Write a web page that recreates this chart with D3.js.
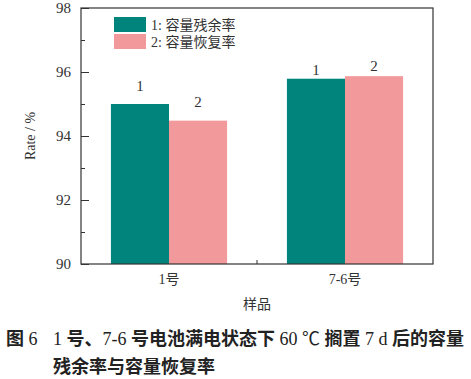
<!DOCTYPE html>
<html><head><meta charset="utf-8">
<script src="https://cdn.jsdelivr.net/npm/d3@7/dist/d3.min.js"></script>
<style>
body{margin:0;background:#fff;}
text{font-family:"Liberation Serif","Noto Sans CJK SC",serif;}
</style></head>
<body><svg id="c" width="471" height="379"></svg>
<script>
const categories = ["1号", "7-6号"];
const seriesNames = ["1: 容量残余率", "2: 容量恢复率"];
const seriesShort = ["1", "2"];
const residual = [95.0, 95.79];
const recovery = [94.48, 95.87];
const yTicks = [90, 92, 94, 96, 98];
const yMinorTicks = [91, 93, 95, 97];
const colors = ["#00847C", "#F29A9B"];
const captionLines = ["1 号、7-6 号电池满电状态下 60 ℃ 搁置 7 d 后的容量", "残余率与容量恢复率"];

const svg = d3.select("#c");
const m = {l:81, t:8, r:433, b:264};
const ink = "#333";

const x = d3.scaleBand().domain(categories).range([m.l, m.r]).paddingInner(0.34).paddingOuter(0.17);
const xs = d3.scaleBand().domain([0,1]).range([0, x.bandwidth()]);
const y = d3.scaleLinear().domain([90, 98]).range([m.b, m.t]);

const series = [residual, recovery];
series.forEach((vals, si) => {
  svg.append("g").selectAll("rect").data(vals).join("rect")
    .attr("x", (d,i) => x(categories[i]) + xs(si))
    .attr("y", d => y(d))
    .attr("width", xs.bandwidth())
    .attr("height", d => y(90) - y(d))
    .attr("fill", colors[si]);
});
const labelOffsets = [[13, 14], [4, 5]];
series.forEach((vals, si) => {
  svg.append("g").selectAll("text").data(vals).join("text")
    .attr("x", (d,i) => x(categories[i]) + xs(si) + xs.bandwidth()/2)
    .attr("y", (d,i) => y(d) - labelOffsets[i][si])
    .attr("text-anchor", "middle")
    .attr("font-size", 15).attr("fill", ink)
    .text(seriesShort[si]);
});

svg.append("rect").attr("x", m.l).attr("y", m.t).attr("width", m.r-m.l).attr("height", m.b-m.t)
  .attr("fill","none").attr("stroke", ink).attr("stroke-width", 1.2);

const ya = svg.append("g").attr("transform", `translate(${m.l},0)`)
  .call(d3.axisLeft(y).tickValues(yTicks).tickSize(-8).tickPadding(10).tickFormat(d3.format("d")));
ya.select(".domain").remove();
ya.selectAll("line").attr("stroke", ink);
ya.selectAll("text").attr("font-size", 15).attr("fill", ink).attr("font-family", "Liberation Serif");
const yb = svg.append("g").attr("transform", `translate(${m.l},0)`)
  .call(d3.axisLeft(y).tickValues(yMinorTicks).tickSize(-4).tickFormat(""));
yb.select(".domain").remove();
yb.selectAll("line").attr("stroke", ink);

const xa = svg.append("g").attr("transform", `translate(0,${m.b})`)
  .call(d3.axisBottom(x).tickSize(0).tickPadding(10));
xa.select(".domain").remove();
xa.selectAll("text").attr("font-size", 14).attr("fill", ink).attr("font-family", "Liberation Serif, Noto Sans CJK SC");
const mid = (x(categories[0]) + x(categories[1]) + x.bandwidth())/2;
svg.append("line").attr("x1", mid).attr("x2", mid).attr("y1", m.b).attr("y2", m.b-4).attr("stroke", ink);

svg.append("text").attr("transform", `translate(35,${(m.t+m.b)/2}) rotate(-90)`)
  .attr("text-anchor","middle").attr("font-size", 14).attr("fill", ink).text("Rate / %");
svg.append("text").attr("x", (m.l+m.r)/2).attr("y", 309).attr("text-anchor","middle")
  .attr("font-size", 14).attr("fill", ink).text("样品");

const lg = svg.append("g");
seriesNames.forEach((n, i) => {
  lg.append("rect").attr("x", 114).attr("y", 17 + i*17).attr("width", 32).attr("height", 15).attr("fill", colors[i]);
  lg.append("text").attr("x", 151).attr("y", 30 + i*17).attr("font-size", 14).attr("fill", ink).text(n);
});

// caption: CJK bold, Latin regular serif
function addRich(t, str) {
  const parts = str.match(/[\u3000-\u9fff\uff00-\uffef]+|[^\u3000-\u9fff\uff00-\uffef]+/g);
  parts.forEach(p => {
    const cjk = /[\u3000-\u9fff]/.test(p);
    t.append("tspan").attr("font-weight", cjk ? "bold" : "normal").text(p);
  });
}
const cap = svg.append("g").attr("fill", "#222").attr("font-size", 18);
const c0 = cap.append("text").attr("x", 6).attr("y", 345); addRich(c0, "图 6");
const c1 = cap.append("text").attr("x", 53).attr("y", 345); addRich(c1, captionLines[0]);
const c2 = cap.append("text").attr("x", 53).attr("y", 373); addRich(c2, captionLines[1]);
</script></body></html>
